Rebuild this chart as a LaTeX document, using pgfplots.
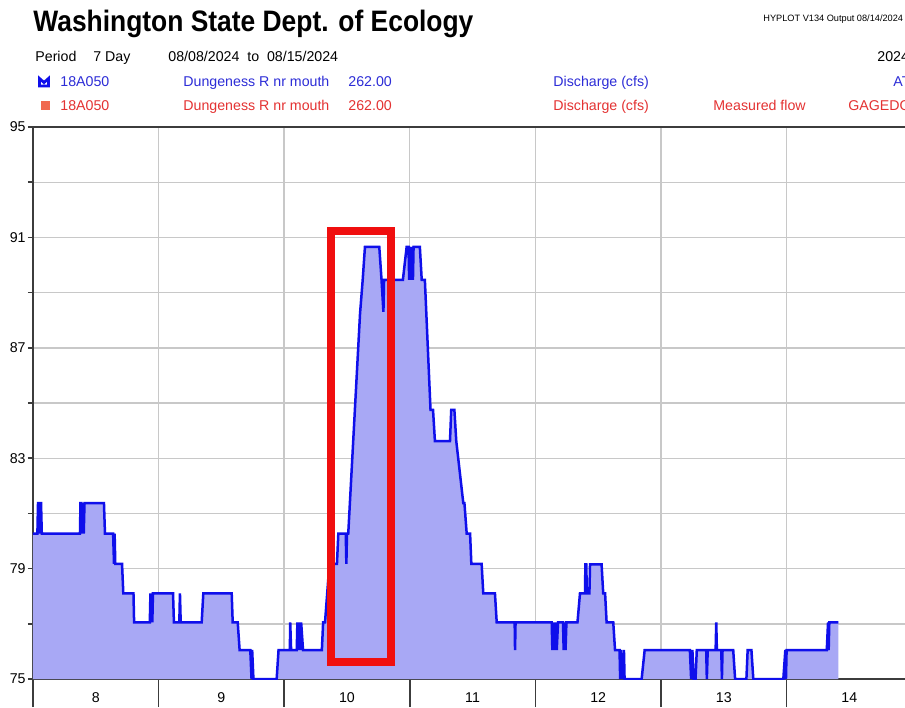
\documentclass[border=0pt]{standalone}
\usepackage{pgfplots}
\pgfplotsset{compat=1.18}
\usepackage{pgfplotstable}
\usepackage{fontspec}
\setmainfont{Liberation Sans}
\usepackage{graphicx}

\definecolor{lineblue}{RGB}{15,15,235}
\definecolor{fillblue}{RGB}{168,168,245}
\definecolor{txtblue}{RGB}{45,45,215}
\definecolor{txtred}{RGB}{228,50,50}
\definecolor{iconred}{RGB}{240,105,80}
\definecolor{boxred}{RGB}{240,15,15}
\definecolor{gridgray}{RGB}{200,200,200}
\definecolor{axisgray}{RGB}{60,60,60}

\pgfplotstableread{
x y
8.000 80.27
8.035 80.27
8.040 81.37
8.048 81.37
8.052 80.27
8.056 81.37
8.064 81.37
8.070 80.27
8.374 80.27
8.378 81.37
8.385 81.37
8.390 80.27
8.398 81.37
8.404 80.27
8.410 81.37
8.565 81.37
8.573 80.27
8.638 80.27
8.645 79.17
8.650 80.27
8.655 79.17
8.709 79.17
8.719 78.10
8.800 78.10
8.805 77.05
8.930 77.05
8.935 78.10
8.940 77.05
8.945 78.10
8.950 77.05
8.955 78.10
9.115 78.10
9.122 77.05
9.165 77.05
9.170 78.10
9.176 77.05
9.343 77.05
9.356 78.10
9.582 78.10
9.590 77.05
9.630 77.05
9.645 76.05
9.730 76.05
9.740 75.00
9.745 76.05
9.755 75.00
9.940 75.00
9.955 76.05
10.045 76.05
10.048 77.05
10.055 76.05
10.100 76.05
10.105 77.05
10.115 76.05
10.120 77.05
10.130 76.05
10.135 77.05
10.150 76.05
10.300 76.05
10.310 77.05
10.325 77.05
10.360 79.17
10.420 79.17
10.431 80.27
10.490 80.27
10.495 79.17
10.500 80.27
10.510 80.27
10.604 88.25
10.625 89.46
10.643 90.66
10.757 90.66
10.775 89.46
10.790 88.30
10.795 89.46
10.945 89.46
10.975 90.66
10.990 90.66
10.995 89.46
11.000 90.66
11.010 89.46
11.015 90.66
11.025 89.46
11.030 90.66
11.080 90.66
11.095 89.46
11.120 89.46
11.165 84.75
11.185 84.75
11.200 83.62
11.320 83.62
11.330 84.75
11.355 84.75
11.370 83.62
11.426 81.37
11.435 81.37
11.453 80.27
11.480 80.27
11.490 79.17
11.572 79.17
11.585 78.10
11.678 78.10
11.692 77.05
11.835 77.05
11.838 76.05
11.842 77.05
12.130 77.05
12.135 76.05
12.140 77.05
12.150 76.05
12.160 77.05
12.170 76.05
12.180 77.05
12.220 77.05
12.225 76.05
12.232 77.05
12.240 76.05
12.247 77.05
12.335 77.05
12.355 78.10
12.395 78.10
12.398 79.15
12.405 79.15
12.410 78.10
12.430 78.10
12.435 79.15
12.527 79.15
12.540 78.10
12.555 78.10
12.567 77.05
12.620 77.05
12.634 76.05
12.670 76.05
12.675 75.00
12.680 76.05
12.690 75.00
12.705 76.05
12.710 75.00
12.846 75.00
12.870 76.05
13.230 76.05
13.240 75.00
13.250 76.05
13.260 75.00
13.275 75.00
13.285 76.05
13.360 76.05
13.365 75.00
13.372 76.05
13.435 76.05
13.440 77.05
13.445 76.05
13.480 76.05
13.485 75.00
13.490 76.05
13.575 76.05
13.590 75.00
13.680 75.00
13.690 76.05
13.720 76.05
13.735 75.00
13.974 75.00
13.990 76.05
13.995 75.00
14.000 76.05
14.320 76.05
14.330 77.05
14.335 76.05
14.340 77.05
14.412 77.05
}\flow

\newcommand{\sm}{\fontsize{7.1}{8}\selectfont}

\begin{document}
\begin{tikzpicture}
\useasboundingbox (0pt,0pt) rectangle (452.5pt,-353.5pt);
\clip (0pt,0pt) rectangle (452.5pt,-353.5pt);
\fill[white] (0pt,0pt) rectangle (452.5pt,-353.5pt);

\begin{axis}[
  at={(16.5pt,-63.5pt)}, anchor=north west,
  scale only axis, width=439.6pt, height=276pt,
  xmin=8, xmax=15, ymin=75, ymax=95,
  xtick={8.5,9.5,10.5,11.5,12.5,13.5,14.5},
  xticklabels={8,9,10,11,12,13,14},
  minor xtick={8,9,10,11,12,13,14,15},
  ytick={75,77,79,81,83,85,87,89,91,93,95},
  yticklabels={75,,79,,83,,87,,91,,95},
  xtick pos=bottom, ytick pos=left,
  tick align=outside,
  major tick length=2.5pt, minor tick length=14pt,
  major x tick style={draw=none},
  tick style={axisgray, line width=0.8pt},
  xmajorgrids=false, xminorgrids=true, ymajorgrids=true,
  grid style={gridgray, line width=0.7pt},
  minor grid style={gridgray, line width=0.7pt},
  axis line style={axisgray, line width=0.9pt},
  ticklabel style={font=\sm, text=black},
  yticklabel style={inner sep=1pt},
  xticklabel style={yshift=-0.8pt},
]
\addplot[draw=none, fill=fillblue] table {\flow} \closedcycle;
\addplot[lineblue, line width=1.25pt] table {\flow};
\draw[boxred, line width=4pt] (axis cs:10.373,75.6) rectangle (axis cs:10.850,91.23);
\end{axis}

\begin{scope}[x=0.5pt,y=-0.5pt]
\node[anchor=base west, inner sep=0] at (33,31) {\scalebox{1}[1.12]{\fontsize{13.2}{15}\selectfont\bfseries Washington State Dept. of Ecology}};
\node[anchor=base west, inner sep=0] at (763,21) {\fontsize{4.6}{5}\selectfont HYPLOT V134 Output 08/14/2024};

\node[anchor=base west, inner sep=0] at (35,61.5) {\sm Period};
\node[anchor=base west, inner sep=0] at (93,61.5) {\sm 7 Day};
\node[anchor=base west, inner sep=0] at (168,61.5) {\sm 08/08/2024\ \ to\ \ 08/15/2024};
\node[anchor=base west, inner sep=0] at (877,61.5) {\sm 2024};

\draw[lineblue, line width=1.4pt, line join=miter] (39.5,78.5) -- (44,82.5) -- (48.5,78.5) -- (48.5,86) -- (39.5,86) -- cycle;
\node[anchor=base west, inner sep=0, text=txtblue] at (60,86.5) {\sm 18A050};
\node[anchor=base west, inner sep=0, text=txtblue] at (183,86.5) {\sm Dungeness R nr mouth};
\node[anchor=base west, inner sep=0, text=txtblue] at (348,86.5) {\sm 262.00};
\node[anchor=base west, inner sep=0, text=txtblue] at (553,86.5) {\sm Discharge (cfs)};
\node[anchor=base west, inner sep=0, text=txtblue] at (893,86.5) {\sm AT};

\fill[iconred] (41,101) rectangle (50,110);
\node[anchor=base west, inner sep=0, text=txtred] at (60,110.5) {\sm 18A050};
\node[anchor=base west, inner sep=0, text=txtred] at (183,110.5) {\sm Dungeness R nr mouth};
\node[anchor=base west, inner sep=0, text=txtred] at (348,110.5) {\sm 262.00};
\node[anchor=base west, inner sep=0, text=txtred] at (553,110.5) {\sm Discharge (cfs)};
\node[anchor=base west, inner sep=0, text=txtred] at (713,110.5) {\sm Measured flow};
\node[anchor=base west, inner sep=0, text=txtred] at (848,110.5) {\sm GAGEDO};
\end{scope}
\end{tikzpicture}
\end{document}
